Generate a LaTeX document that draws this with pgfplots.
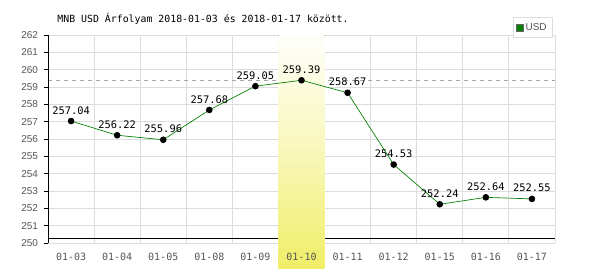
\documentclass[border=0pt]{standalone}
\usepackage{pgfplots}
\pgfplotsset{compat=1.18}
\usepackage{fontspec}
\setmainfont{Liberation Sans}
\newfontfamily\monofont{DejaVu Sans Mono}
\definecolor{gridc}{HTML}{DDDDDD}
\definecolor{labc}{HTML}{555555}
\definecolor{hiyel}{HTML}{F0EE66}
\definecolor{lgreen}{HTML}{008000}
\begin{document}
\begin{tikzpicture}
\begin{axis}[
  set layers,
  scale only axis, width=380pt, height=156pt,
  clip=false,
  xmin=-0.5, xmax=10.5, ymin=250, ymax=262,
  xtick={0,...,10},
  xticklabels={01-03,01-04,01-05,01-08,01-09,01-10,01-11,01-12,01-15,01-16,01-17},
  minor xtick={0.5,1.5,...,10.5},
  xminorgrids=true,
  ytick={250,...,262},
  ymajorgrids=true,
  grid style={draw=gridc, line width=0.6pt},
  minor grid style={draw=gridc, line width=0.6pt},
  axis y line*=left,
  axis x line*=bottom,
  x axis line style={draw=none},
  y axis line style={-, black, line width=0.6pt},
  xtick style={draw=none},
  minor x tick style={draw=none},
  ytick style={black, line width=0.5pt},
  major tick length=3pt,
  tick align=outside,
  /pgf/number format/assume math mode=true,
  yticklabel style={font=\fontsize{7.5}{9}\selectfont, text=labc, xshift=-1pt},
  xticklabel style={font=\monofont\fontsize{7.5}{9}\selectfont, text=labc, yshift=-1pt},
  legend style={at={(1,1)}, anchor=south east, yshift=-2pt, xshift=-2pt, draw=gridc,
    font=\fontsize{7.5}{9}\selectfont, text=labc, inner sep=2pt, row sep=0pt},
  legend image code/.code={\fill[lgreen, draw=black!60, line width=0.3pt] (0pt,-2.5pt) rectangle (5pt,2.5pt);},
]
\begin{pgfonlayer}{axis ticks}
\draw[gray!70, dashed, line width=0.5pt] (axis cs:-0.5,259.39) -- (axis cs:10.5,259.39);
\draw[black, line width=0.9pt] (axis cs:-0.5,250.28) -- (axis cs:10.5,250.28);
\fill[top color=hiyel!3!white, bottom color=hiyel, middle color=hiyel!45!white] (axis cs:4.5,262) rectangle (axis cs:5.5,248.55);
\end{pgfonlayer}
\addplot[lgreen, line width=0.5pt, mark=*, mark size=2.2pt, mark options={black, fill=black},
  nodes near coords, point meta=explicit symbolic,
  every node near coord/.append style={font=\monofont\fontsize{7.8}{9}\selectfont, black, anchor=south, yshift=1.5pt}]
  table[meta=lab] {
x y lab
0 257.04 257.04
1 256.22 256.22
2 255.96 255.96
3 257.68 257.68
4 259.05 259.05
5 259.39 259.39
6 258.67 258.67
7 254.53 254.53
8 252.24 252.24
9 252.64 252.64
10 252.55 252.55
};
\addlegendentry{USD}
\end{axis}
\node[anchor=west, font=\monofont\fontsize{7.4}{9}\selectfont] at ([xshift=3.5pt,yshift=12pt]current axis.north west) {MNB USD Árfolyam 2018-01-03 és 2018-01-17 között.};
\path ([shift={(-36pt,-20.25pt)}]current axis.south west) rectangle ([shift={(33.75pt,26.25pt)}]current axis.north east);
\end{tikzpicture}
\end{document}
